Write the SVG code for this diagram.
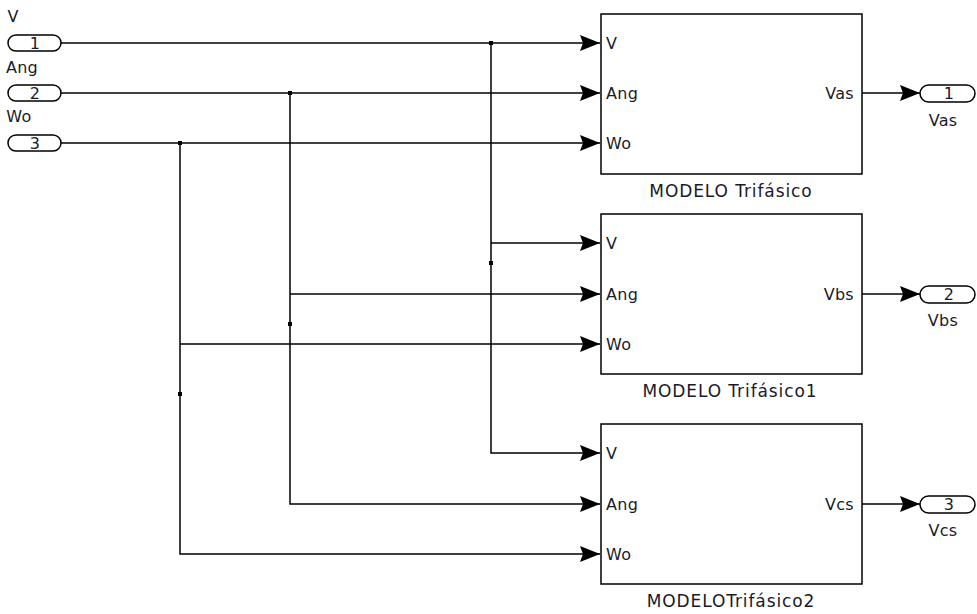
<svg xmlns="http://www.w3.org/2000/svg" width="977" height="614" viewBox="0 0 977 614">
<defs>
<style>
.blk{fill:#fff;stroke:#000;stroke-width:1.5}
.port{fill:#fff;stroke:#000;stroke-width:1.5}
.ln{fill:none;stroke:#000;stroke-width:1.5}
.t{font-family:"DejaVu Sans",sans-serif;font-size:16px;fill:#1a1a2a;letter-spacing:0.3px}
.nm{font-family:"DejaVu Sans",sans-serif;font-size:17px;fill:#1a1a2a;letter-spacing:0.9px;text-anchor:middle}
.m{text-anchor:middle}
.e{text-anchor:end}
.dot{fill:#000}
</style>
<marker id="ah" viewBox="0 0 20 16" refX="20" refY="8" markerWidth="20" markerHeight="16" markerUnits="userSpaceOnUse" orient="auto">
<path d="M0,0 L20,8 L0,16 L3,8 Z" fill="#000"/>
</marker>
</defs>
<rect width="977" height="614" fill="#fff"/>

<g id="in1">
<rect class="port" x="8" y="35" width="53" height="16" rx="8"/>
<text class="t m" x="35" y="49">1</text>
<text class="t m" x="13" y="22">V</text>
</g>
<g id="in2">
<rect class="port" x="8" y="85" width="53" height="16" rx="8"/>
<text class="t m" x="35" y="99">2</text>
<text class="t m" x="22" y="73">Ang</text>
</g>
<g id="in3">
<rect class="port" x="8" y="135" width="53" height="16" rx="8"/>
<text class="t m" x="35" y="149">3</text>
<text class="t m" x="19" y="122">Wo</text>
</g>

<g id="block1">
<rect class="blk" x="601" y="14" width="261" height="160"/>
<text class="t" x="606" y="49">V</text>
<text class="t" x="606" y="99">Ang</text>
<text class="t" x="606" y="149">Wo</text>
<text class="t e" x="854" y="99">Vas</text>
<text class="nm" x="731" y="197">MODELO Trifásico</text>
</g>
<g id="block2">
<rect class="blk" x="601" y="214" width="261" height="160"/>
<text class="t" x="606" y="249">V</text>
<text class="t" x="606" y="300">Ang</text>
<text class="t" x="606" y="350">Wo</text>
<text class="t e" x="854" y="300">Vbs</text>
<text class="nm" x="730" y="397">MODELO Trifásico1</text>
</g>
<g id="block3">
<rect class="blk" x="601" y="424" width="261" height="160"/>
<text class="t" x="606" y="459">V</text>
<text class="t" x="606" y="510">Ang</text>
<text class="t" x="606" y="560">Wo</text>
<text class="t e" x="854" y="510">Vcs</text>
<text class="nm" x="731" y="607">MODELOTrifásico2</text>
</g>

<g id="out1">
<rect class="port" x="920" y="85" width="55" height="17" rx="8.5"/>
<text class="t m" x="949" y="99">1</text>
<text class="t m" x="943" y="126">Vas</text>
</g>
<g id="out2">
<rect class="port" x="920" y="286" width="55" height="17" rx="8.5"/>
<text class="t m" x="949" y="300">2</text>
<text class="t m" x="943" y="326">Vbs</text>
</g>
<g id="out3">
<rect class="port" x="920" y="496" width="55" height="17" rx="8.5"/>
<text class="t m" x="949" y="510">3</text>
<text class="t m" x="943" y="536">Vcs</text>
</g>

<g id="connectors">
<path class="ln" d="M61,43 H600" marker-end="url(#ah)"/>
<path class="ln" d="M491,43 V453 H600" marker-end="url(#ah)"/>
<path class="ln" d="M491,243 H600" marker-end="url(#ah)"/>
<path class="ln" d="M61,93 H600" marker-end="url(#ah)"/>
<path class="ln" d="M290,93 V504 H600" marker-end="url(#ah)"/>
<path class="ln" d="M290,294 H600" marker-end="url(#ah)"/>
<path class="ln" d="M61,143 H600" marker-end="url(#ah)"/>
<path class="ln" d="M180,143 V554 H600" marker-end="url(#ah)"/>
<path class="ln" d="M180,344 H600" marker-end="url(#ah)"/>
<path class="ln" d="M862,93 H920" marker-end="url(#ah)"/>
<path class="ln" d="M862,294 H920" marker-end="url(#ah)"/>
<path class="ln" d="M862,504 H920" marker-end="url(#ah)"/>
<rect class="dot" x="489" y="41" width="4" height="4"/>
<rect class="dot" x="489" y="261" width="4" height="4"/>
<rect class="dot" x="288" y="91" width="4" height="4"/>
<rect class="dot" x="288" y="322" width="4" height="4"/>
<rect class="dot" x="178" y="141" width="4" height="4"/>
<rect class="dot" x="178" y="392" width="4" height="4"/>
</g>
</svg>
